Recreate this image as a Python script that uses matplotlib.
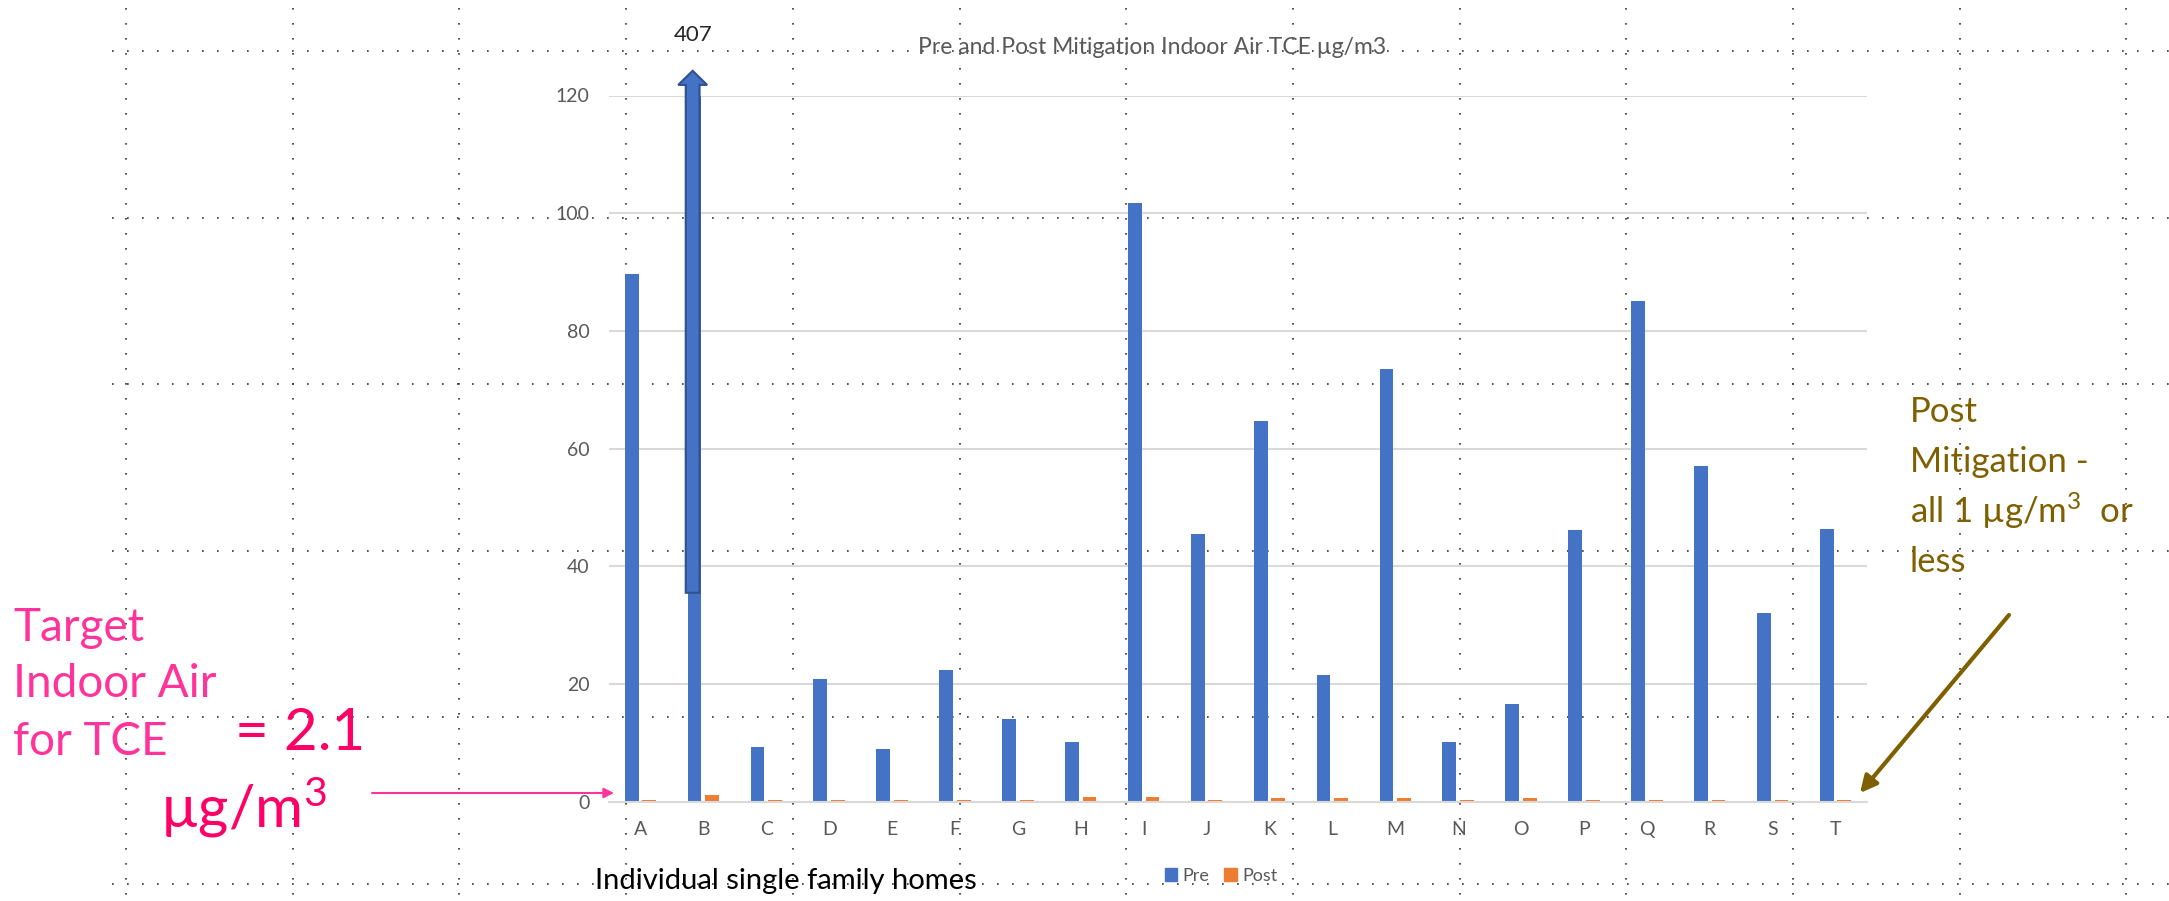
import numpy as np
import matplotlib
matplotlib.use('Agg')
import matplotlib.pyplot as plt
from matplotlib.patches import FancyArrow, Patch

# data
homes = list('ABCDEFGHIJKLMNOPQRST')
pre = [89.6, 407, 9.3, 20.8, 8.9, 22.4, 14.0, 10.2, 101.8, 45.5,
       64.7, 21.5, 73.6, 10.1, 16.6, 46.1, 85.0, 57.0, 32.1, 46.3]
post = [0.35, 1.1, 0.35, 0.35, 0.35, 0.35, 0.35, 0.8, 0.8, 0.35,
        0.55, 0.55, 0.55, 0.3, 0.55, 0.35, 0.35, 0.35, 0.35, 0.35]
y_ticks = [0, 20, 40, 60, 80, 100, 120]

W, H = 2169, 901
BLUE = '#4472C4'
ORANGE = '#ED7D31'
PINK = '#FF3399'
MAGENTA = '#FF0066'
OLIVE = '#7F6000'

plt.rcParams['font.family'] = ['Lato', 'DejaVu Sans']
plt.rcParams['mathtext.fontset'] = 'custom'
plt.rcParams['mathtext.rm'] = 'Lato'
plt.rcParams['mathtext.it'] = 'Lato'

fig = plt.figure(figsize=(W / 100, H / 100), dpi=100)

# slide layer in pixel coords: dotted guides + callouts
bg = fig.add_axes([0, 0, 1, 1], zorder=0)
bg.set_xlim(0, W)
bg.set_ylim(H, 0)
bg.axis('off')
for gx in np.arange(126, W, 166.7):
    bg.plot([gx, gx], [8, H], ls=(0, (1, 8)), lw=1.2, color='#333333')
for gy in np.arange(51, H, 166.6):
    bg.plot([112, W], [gy, gy], ls=(0, (1, 8)), lw=1.2, color='#333333')

# chart
ax = fig.add_axes([609 / W, 1 - 801.7 / H, 1258 / W, 706.2 / H], zorder=1)
ax.patch.set_alpha(0)
x = np.arange(len(homes))
ax.bar(x - 0.14, pre, 0.22, color=BLUE, zorder=2)
ax.bar(x + 0.14, post, 0.22, color=ORANGE, zorder=2)
ax.set_xlim(-0.5, len(homes) - 0.5)
ax.set_ylim(0, 120)
ax.set_yticks(y_ticks)
ax.set_xticks(x)
ax.set_xticklabels(homes)
ax.grid(axis='y', color='#D9D9D9', lw=1.5)
ax.set_axisbelow(True)
for s in ['left', 'right', 'top']:
    ax.spines[s].set_visible(False)
ax.spines['bottom'].set_color('#D9D9D9')
ax.spines['bottom'].set_linewidth(1.5)
ax.tick_params(length=0, labelsize=14, labelcolor='#595959')
ax.tick_params(axis='y', pad=14)
ax.tick_params(axis='x', pad=14)

# off-scale bar for B gets an arrow + its value
ib = int(np.argmax(pre))
ax.add_patch(FancyArrow(ib - 0.17, 35.5, 0, 124.2 - 35.5, width=0.22,
                        head_width=0.46, head_length=2.4,
                        length_includes_head=True, fc=BLUE, ec='#2F528F',
                        lw=1.5, clip_on=False, zorder=3))
ax.text(ib - 0.17, 130.3, f'{pre[ib]:.0f}', ha='center', va='center',
        fontsize=16, color='#262626')

fig.text(1152 / W, 1 - 47 / H, 'Pre and Post Mitigation Indoor Air TCE µg/m3',
         ha='center', va='center', fontsize=16.5, color='#595959')
fig.text(595 / W, 1 - 889 / H, 'Individual single family homes',
         ha='left', va='baseline', fontsize=21, color='black')

fig.legend(handles=[Patch(color=BLUE, label='Pre'),
                    Patch(color=ORANGE, label='Post')],
           loc='center', bbox_to_anchor=(1221 / W, 1 - 876 / H), ncol=2,
           frameon=False, fontsize=13, handlelength=0.7, handleheight=0.7,
           handletextpad=0.3, columnspacing=0.8, labelcolor='#595959')

# target callout (left)
for txt, yb in [('Target', 641), ('Indoor Air', 697), ('for TCE', 755)]:
    bg.text(13, yb, txt, fontsize=33, color=PINK, va='baseline')
bg.text(235, 750, '= 2.1', fontsize=42, color=MAGENTA, va='baseline')
bg.text(160, 828, r'µg/m$^3$', fontsize=42, color=MAGENTA, va='baseline')
bg.annotate('', xy=(614, 793), xytext=(372, 793),
            arrowprops=dict(arrowstyle='-|>', color=PINK, lw=1.5,
                            mutation_scale=15, shrinkA=0, shrinkB=0))

# post-mitigation callout (right)
for txt, yb in [('Post', 422), ('Mitigation -', 472),
                (r'all 1 µg/m$^3$  or', 523), ('less', 572)]:
    bg.text(1910, yb, txt, fontsize=25, color=OLIVE, va='baseline')
bg.annotate('', xy=(1860, 793), xytext=(2009, 615),
            arrowprops=dict(arrowstyle='-|>', color=OLIVE, lw=3,
                            mutation_scale=25, shrinkA=0, shrinkB=0))

fig.savefig('out.png', dpi=100)
